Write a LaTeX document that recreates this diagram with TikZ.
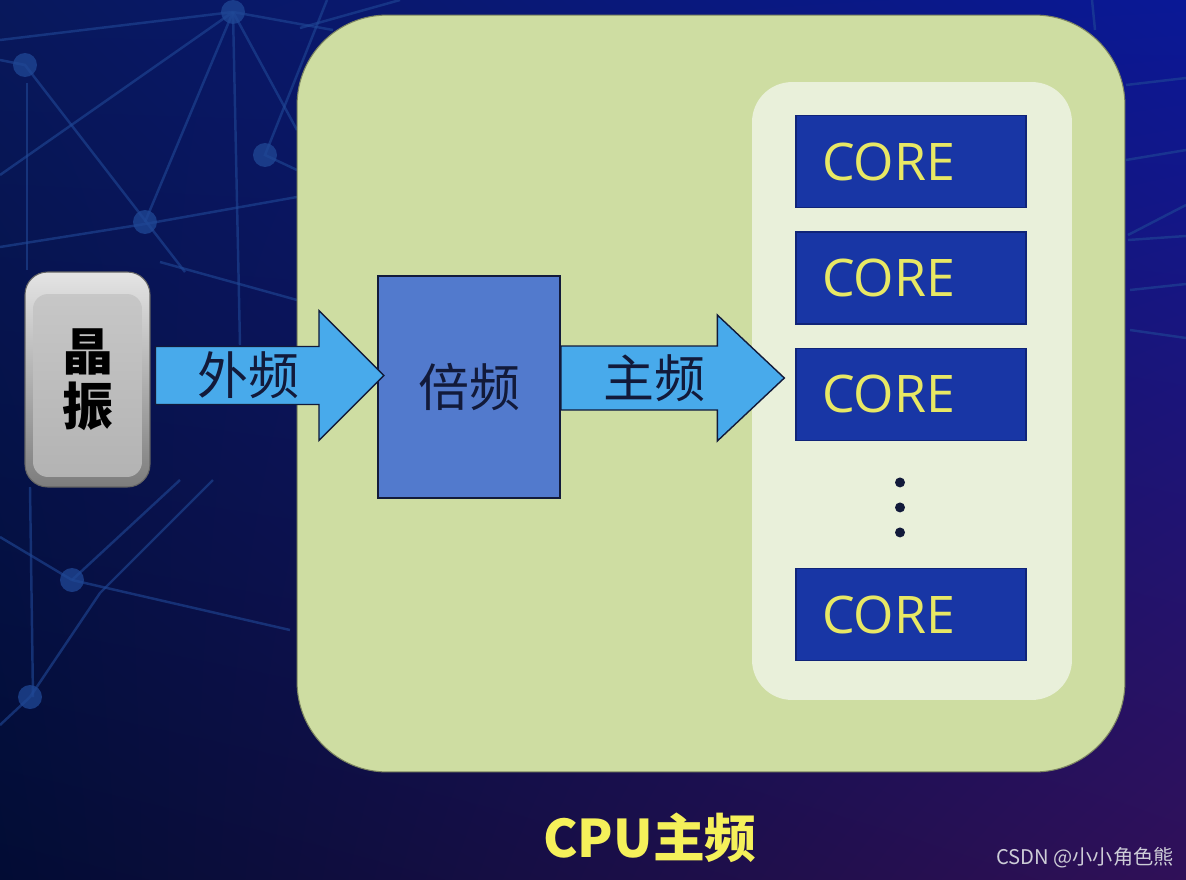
\documentclass[tikz,border=0pt]{standalone}
\usepackage{fontspec}
\setmainfont{Open Sans}
\newfontfamily\cjk{Noto Sans CJK SC}
\usetikzlibrary{positioning, calc, shadings}
\definecolor{bgtl}{RGB}{8,24,92}
\definecolor{bgtr}{RGB}{10,24,150}
\definecolor{bgbl}{RGB}{2,12,52}
\definecolor{bgbr}{RGB}{48,16,88}
\definecolor{netc}{RGB}{32,72,150}
\definecolor{cpufill}{RGB}{206,221,162}
\definecolor{panelfill}{RGB}{233,240,218}
\definecolor{corefill}{RGB}{24,54,165}
\definecolor{coreedge}{RGB}{16,36,120}
\definecolor{coretext}{RGB}{232,232,100}
\definecolor{multfill}{RGB}{82,122,205}
\definecolor{arrowfill}{RGB}{72,170,235}
\definecolor{inkdark}{RGB}{18,26,58}
\definecolor{oschi}{RGB}{228,228,228}
\definecolor{osclo}{RGB}{125,125,125}
\definecolor{oscface}{RGB}{178,178,178}
\definecolor{titlec}{RGB}{245,240,90}
\definecolor{creditc}{RGB}{205,205,215}
\tikzset{
  netline/.style={draw=netc, line width=1.4pt, opacity=0.6},
  netdot/.style={fill=netc, opacity=0.75},
  cpubox/.style={fill=cpufill, draw=cpufill!60!black, line width=0.6pt,
    rounded corners=1.8cm, minimum width=16.56cm, minimum height=15.14cm},
  panel/.style={fill=panelfill, rounded corners=0.8cm,
    minimum width=6.4cm, minimum height=12.36cm},
  core/.style={draw=coreedge, fill=corefill, line width=0.8pt,
    minimum height=1.84cm, text width=3.56cm, inner xsep=0.52cm, inner ysep=0pt,
    align=left, text=coretext, font=\fontsize{29.5}{30}\selectfont},
  mult/.style={draw=inkdark, fill=multfill, line width=1.2pt,
    minimum width=3.64cm, minimum height=4.44cm,
    text=inkdark, font=\cjk\fontsize{29}{31}\selectfont},
  osc/.style={draw=osclo!80!black, line width=0.6pt, rounded corners=0.45cm,
    top color=oschi, bottom color=osclo,
    minimum width=2.5cm, minimum height=4.3cm, inner sep=0pt, align=center,
    font=\cjk\bfseries\fontsize{29}{31}\selectfont,
    path picture={\shade[top color=oscface!70!white, bottom color=oscface, rounded corners=0.3cm]
      ($(path picture bounding box.north west)+(8,22)$) rectangle
      ($(path picture bounding box.south east)+(-8,-10)$);}},
  fatarrow/.style={draw=inkdark, fill=arrowfill, line width=0.8pt, line join=miter},
  flabel/.style={text=inkdark, font=\cjk\fontsize{29}{31}\selectfont},
  title/.style={text=titlec, font=\cjk\bfseries\fontsize{29.5}{31}\selectfont},
  credit/.style={text=creditc, font=\cjk\fontsize{11.5}{13}\selectfont},
}
% block arrow: tail, head base, tip, shaft half width, head half width
\newcommand{\fatarrow}[5]{%
  \draw[fatarrow] ($(#1)+(0,-#4)$) -- ($(#2)+(0,-#4)$) -- ($(#2)+(0,-#5)$) -- (#3)
    -- ($(#2)+(0,#5)$) -- ($(#2)+(0,#4)$) -- ($(#1)+(0,#4)$) -- cycle;}

\begin{document}
\begin{tikzpicture}[x=0.02cm, y=-0.02cm, node distance=0.46cm]
  \useasboundingbox (0,0) rectangle (1186,879);
  \shade[upper left=bgtl, upper right=bgtr, lower left=bgbl, lower right=bgbr]
    (0,0) rectangle (1186,879);

  % background network
  \draw[netline] (0,40) -- (233,12) -- (333,30);
  \draw[netline] (233,12) -- (0,175);
  \draw[netline] (233,12) -- (145,222);
  \draw[netline] (233,12) -- (240,345);
  \draw[netline] (233,12) -- (297,130);
  \draw[netline] (0,60) -- (25,65) -- (185,272);
  \draw[netline] (27,83) -- (27,270);
  \draw[netline] (0,247) -- (145,224) -- (297,197);
  \draw[netline] (327,0) -- (265,155) -- (297,170);
  \draw[netline] (160,262) -- (297,300);
  \draw[netline] (30,487) -- (33,697);
  \draw[netline] (0,537) -- (72,580) -- (290,630);
  \draw[netline] (72,580) -- (180,480);
  \draw[netline] (213,480) -- (100,593) -- (30,697) -- (0,725);
  \draw[netline] (1126,85) -- (1186,78);
  \draw[netline] (1126,160) -- (1186,150);
  \draw[netline] (1128,235) -- (1186,205);
  \draw[netline] (1128,240) -- (1186,236);
  \draw[netline] (1130,290) -- (1186,284);
  \draw[netline] (1130,330) -- (1186,338);
  \draw[netline] (400,0) -- (300,28);
  \draw[netline] (1092,0) -- (1095,30);
  \foreach \p in {(233,12),(25,65),(265,155),(145,222),(72,580),(30,697)}
    \fill[netdot] \p circle (0.24cm);

  % cpu
  \node[cpubox] (cpu) at (711,393.5) {};
  \node[panel] (panel) at (912,391) {};

  \node[core] (core1) at (911,161.5) {CORE};
  \node[core, below=of core1] (core2) {CORE};
  \node[core, below=of core2] (core3) {CORE};
  \node[core, below=2.54cm of core3] (core4) {CORE};
  \coordinate (dots) at ($($(core3.south)!0.5!(core4.north)$)+(-11,3)$);
  \foreach \dy in {-25,0,25}
    \fill[inkdark] ($(dots)+(0,\dy)$) circle (0.1cm);

  \node[mult] (mult) at (469,387) {倍频};
  \node[osc] (osc) at (87.5,379.5) {晶\\振};

  % ext clock
  \coordinate (ext tail) at ($(osc.east)+(5,-4)$);
  \coordinate (ext tip) at ($(ext tail -| mult.west)+(7,0)$);
  \coordinate (ext head) at ($(ext tip)+(-65,0)$);
  \fatarrow{ext tail}{ext head}{ext tip}{29}{65}
  \node[flabel] (ext) at ($(ext tail)!0.57!(ext head)$) {外频};

  % core clock
  \coordinate (main tail) at ($(mult.east)+(0,-9)$);
  \coordinate (main tip) at ($(main tail -| core3.west)+(-11,0)$);
  \coordinate (main head) at ($(main tip)+(-67,0)$);
  \fatarrow{main tail}{main head}{main tip}{32}{63}
  \node[flabel] (main) at ($(main tail)!0.6!(main head)$) {主频};

  \node[title] (title) at (650,838) {CPU主频};
  \node[credit] (credit) at (1085,858) {CSDN @小小角色熊};
\end{tikzpicture}
\end{document}
